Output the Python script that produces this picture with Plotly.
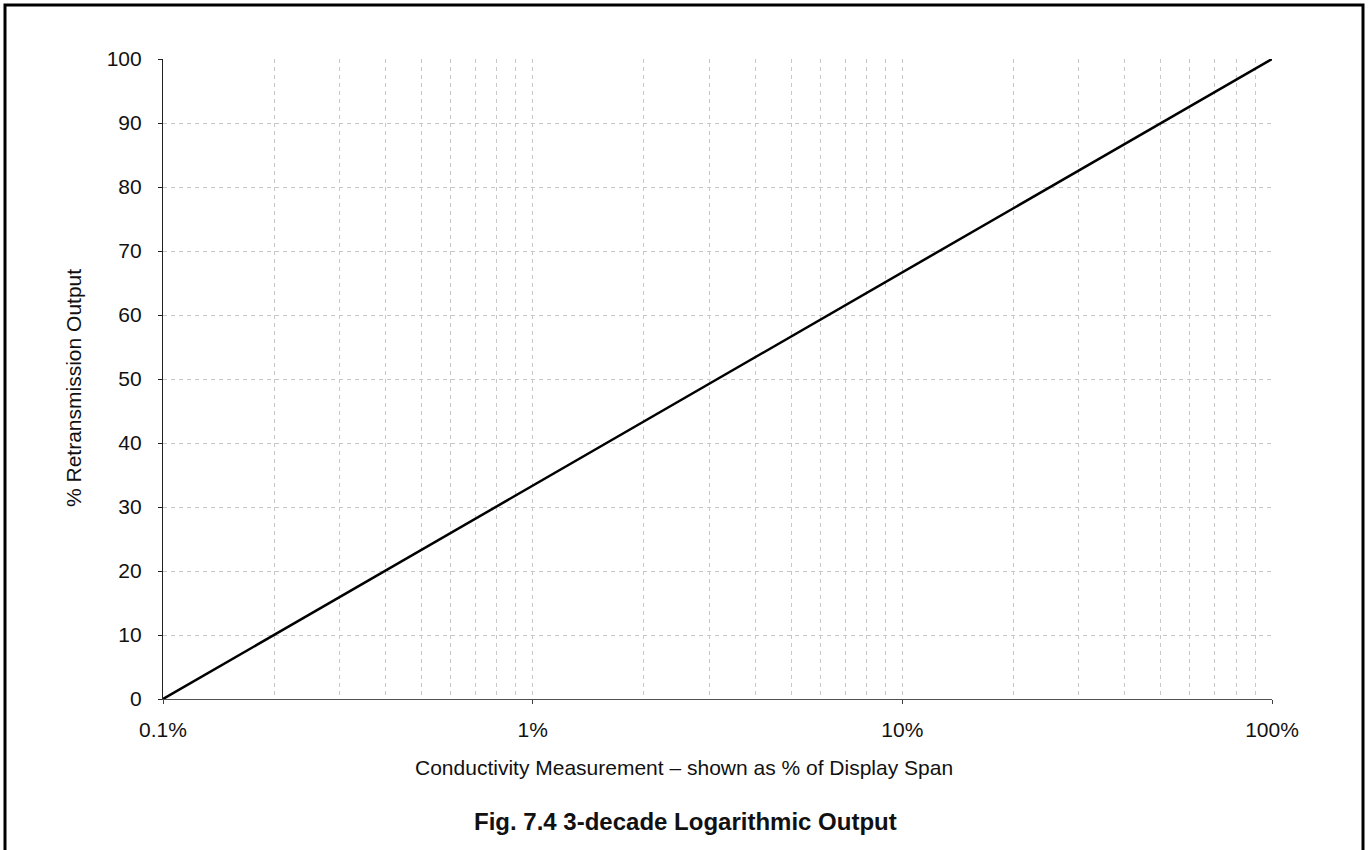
import plotly.graph_objects as go

# Data
measurement_pct = [0.001, 0.01, 0.1, 1.0]      # fraction of display span
retrans_output = [0, 33.33, 66.67, 100]         # % retransmission output
x_tick_vals = [0.001, 0.01, 0.1, 1.0]
x_tick_text = ["0.1%", "1%", "10%", "100%"]
y_tick_vals = list(range(0, 101, 10))
minor_vals = [m * d for d in (0.001, 0.01, 0.1) for m in range(2, 10)]

FONT = "Liberation Sans, Arial, sans-serif"
L, R, T, B = 163, 100, 59, 151
W, H = 1372, 850
pw, ph = W - L - R, H - T - B

def px(x):
    return (x - L) / pw

def py(y):
    return (H - B - y) / ph

fig = go.Figure()
fig.add_trace(go.Scatter(
    x=measurement_pct, y=retrans_output, mode="lines",
    line=dict(color="black", width=2.5), showlegend=False, hoverinfo="skip"))

grid_color = "#c8c8c8"
fig.update_xaxes(
    type="log", range=[-3, 0],
    tickvals=x_tick_vals, ticktext=x_tick_text,
    ticks="outside", ticklen=4, tickcolor="#404040",
    showline=True, linecolor="#505050", linewidth=1.2,
    showgrid=True, gridcolor=grid_color, griddash="4px,4px", gridwidth=1,
    minor=dict(tickvals=minor_vals, showgrid=True, gridcolor=grid_color,
               griddash="4px,4px", gridwidth=1, ticks=""),
    tickfont=dict(family=FONT, size=21, color="#111"),
    ticklabelstandoff=8, zeroline=False,
)
fig.update_yaxes(
    range=[0, 100], tickvals=y_tick_vals,
    ticks="outside", ticklen=4, tickcolor="#222",
    showline=True, linecolor="#222", linewidth=1.2,
    showgrid=True, gridcolor=grid_color, griddash="4px,4px", gridwidth=1,
    tickfont=dict(family=FONT, size=21, color="#111"),
    ticklabelstandoff=12, zeroline=False,
)

fig.add_annotation(text="Conductivity Measurement \u2013 shown as % of Display Span",
                   xref="paper", yref="paper", x=px(683.5), y=py(767),
                   showarrow=False, font=dict(family=FONT, size=21, color="#111"),
                   xanchor="center", yanchor="middle")
fig.add_annotation(text="<b>Fig. 7.4 3-decade Logarithmic Output</b>",
                   xref="paper", yref="paper", x=px(685), y=py(821),
                   showarrow=False, font=dict(family=FONT, size=24, color="#111"),
                   xanchor="center", yanchor="middle")
fig.add_annotation(text="% Retransmission Output", textangle=-90,
                   xref="paper", yref="paper", x=px(73), y=py(388),
                   showarrow=False, font=dict(family=FONT, size=21, color="#111"),
                   xanchor="center", yanchor="middle")

# outer frame
fig.add_shape(type="rect", xref="paper", yref="paper",
              x0=px(5), x1=px(1363), y0=py(5), y1=py(870),
              line=dict(color="black", width=3), fillcolor="rgba(0,0,0,0)")

fig.update_layout(
    width=W, height=H,
    margin=dict(l=L, r=R, t=T, b=B),
    paper_bgcolor="white", plot_bgcolor="white",
    font=dict(family=FONT),
)
fig.write_html("out.html", config={"displayModeBar": False},
               post_script="document.body.style.margin='0';document.body.style.overflow='hidden';")
